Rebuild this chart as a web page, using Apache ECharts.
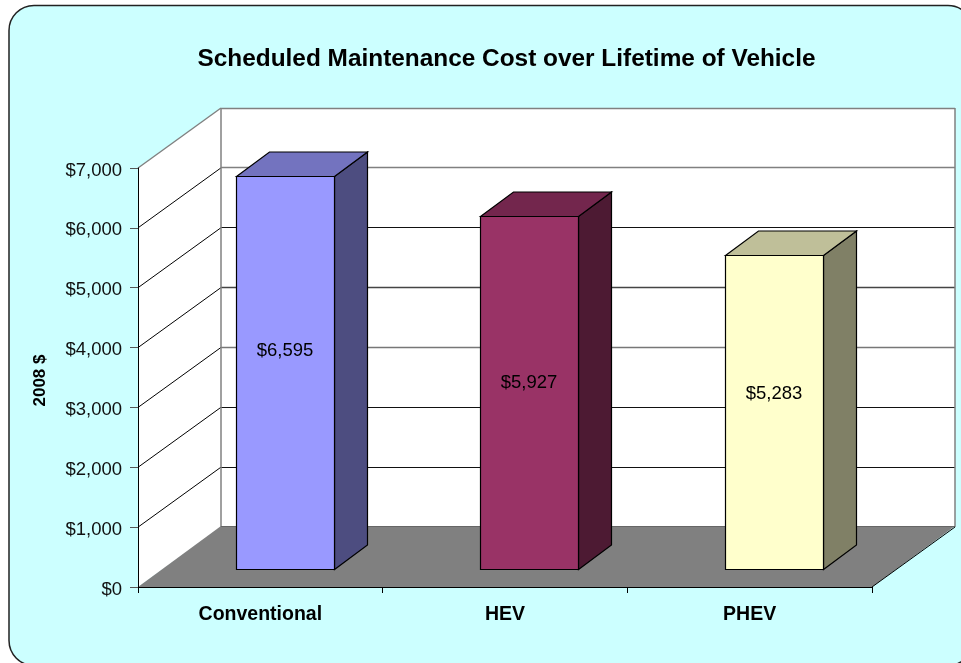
<!DOCTYPE html>
<html>
<head>
<meta charset="utf-8">
<style>html,body{margin:0;padding:0;background:#fff}#c{width:961px;height:663px}</style>
<script src="https://cdn.jsdelivr.net/npm/echarts@6/dist/echarts.min.js"></script>
</head>
<body>
<div id="c"></div>
<script>
const categories = ['Conventional', 'HEV', 'PHEV'];
const costs = [6595, 5927, 5283];
const axisTicks = [0, 1000, 2000, 3000, 4000, 5000, 6000, 7000];
const chartTitle = 'Scheduled Maintenance Cost over Lifetime of Vehicle';
const yAxisTitle = '2008 $';
const frontColors = ['#9999FF', '#993366', '#FFFFCC'];
const topColors = ['#7373BF', '#73264D', '#BFBF99'];
const sideColors = ['#4D4D80', '#4D1A33', '#808066'];
const gridShades = [null, '#111', '#111', '#777', '#444', '#111', '#808080', '#808080'];
const labelLift = [-22, -10, -19];

const FONT = '"Liberation Sans", Arial, sans-serif';
const WALL = [83, -60];
const BAR_DEPTH = [33, -24.5];
const BAR_SHIFT = [24.4, -18];
const fmt = v => '$' + v.toLocaleString('en-US');
const line = (x1, y1, x2, y2, stroke, lineWidth) => ({
  type: 'line', shape: { x1, y1, x2, y2 }, style: { stroke, lineWidth: lineWidth || 1 }
});
const poly = (points, fill, stroke, lineWidth) => ({
  type: 'polygon', shape: { points }, style: { fill, stroke: stroke || null, lineWidth: lineWidth || 0 }
});

function renderWalls(params, api) {
  const cs = params.coordSys;
  const x0 = cs.x, x1 = cs.x + cs.width, yB = cs.y + cs.height, yT = cs.y;
  const [dx, dy] = WALL;
  const kids = [
    poly([[x0, yT], [x0 + dx, yT + dy], [x0 + dx, yB + dy], [x0, yB]], '#fff'),
    poly([[x0 + dx, yT + dy], [x1 + dx, yT + dy], [x1 + dx, yB + dy], [x0 + dx, yB + dy]], '#fff'),
    poly([[x0, yB], [x0 + dx, yB + dy - 1], [x1 + dx, yB + dy - 1], [x1, yB]], '#808080')
  ];
  axisTicks.forEach((v, i) => {
    if (v === 0) return;
    const y = api.coord([0, v])[1];
    const top = i === axisTicks.length - 1;
    kids.push(line(x0, y, x0 + dx, y + dy, top ? '#808080' : '#000', top ? 1.4 : 1));
    const yb = Math.floor(y + dy) + 0.5;
    kids.push(line(x0 + dx, yb, x1 + dx, yb, gridShades[i], gridShades[i] === '#111' ? 1 : 1.4));
  });
  kids.push(line(x0 + dx, yT + dy, x0 + dx, yB + dy, '#808080', 1.5));
  kids.push(line(x1 + dx, yT + dy, x1 + dx, yB + dy, '#808080', 1.5));
  kids.push(line(x0 + dx, yB + dy - 0.5, x1 + dx, yB + dy - 0.5, '#666', 1));
  kids.push(line(x1, yB, x1 + dx, yB + dy, '#000', 1));
  return { type: 'group', children: kids };
}

function renderBar(params, api) {
  const i = params.dataIndex;
  const c = api.coord([i, api.value(1)]);
  const base = api.coord([i, 0]);
  const w = api.size([1, 0])[0] * 0.4;
  const cx = c[0] + BAR_SHIFT[0];
  const l = Math.round(cx - w / 2) + 0.5, r = Math.round(cx + w / 2) + 0.5;
  const yb = base[1] + BAR_SHIFT[1] + 0.5;
  const yt = Math.round(c[1] + BAR_SHIFT[1] + 2) + 0.5;
  const [ddx, ddy] = BAR_DEPTH;
  const s = '#000';
  return {
    type: 'group',
    children: [
      poly([[r, yt], [r + ddx, yt + ddy], [r + ddx, yb + ddy], [r, yb]], sideColors[i], s, 1.2),
      poly([[l, yt], [l + ddx, yt + ddy], [r + ddx, yt + ddy], [r, yt]], topColors[i], s, 1.2),
      poly([[l, yt], [r, yt], [r, yb], [l, yb]], frontColors[i], s, 1.2),
      {
        type: 'text',
        style: {
          text: fmt(api.value(1)), x: (l + r) / 2 - 0.5, y: (yt + yb) / 2 + labelLift[i],
          align: 'center', verticalAlign: 'middle', fill: '#000', font: '18.5px ' + FONT
        }
      }
    ]
  };
}

const chart = echarts.init(document.getElementById('c'), null, { renderer: 'canvas' });
chart.setOption({
  animation: false,
  backgroundColor: '#fff',
  graphic: [{
    type: 'rect', z: -10, silent: true,
    shape: { x: 9, y: 5.5, width: 964, height: 660, r: 25 },
    style: { fill: '#CCFFFF', stroke: '#222', lineWidth: 1.5 }
  }],
  title: {
    text: chartTitle, left: 501.5, top: 42, textAlign: 'center',
    textStyle: { fontFamily: FONT, fontSize: 24.4, fontWeight: 'bold', color: '#000' }
  },
  grid: { left: 138, right: 89, top: 168, bottom: 76 },
  xAxis: {
    type: 'category', data: categories, z: 5,
    axisLine: { lineStyle: { color: '#000', width: 1 } },
    axisTick: { show: true, alignWithLabel: false, length: 6, lineStyle: { color: '#000' } },
    axisLabel: { fontFamily: FONT, fontSize: 19.5, fontWeight: 'bold', color: '#000', margin: 18 },
    splitLine: { show: false }
  },
  yAxis: {
    type: 'value', min: 0, max: 7000, interval: 1000, z: 5,
    name: yAxisTitle, nameLocation: 'middle', nameGap: 89, nameRotate: 90,
    nameTextStyle: { fontFamily: FONT, fontSize: 17, fontWeight: 'bold', color: '#000', padding: [0, 6, 0, 0] },
    axisLine: { show: true, lineStyle: { color: '#000', width: 1 } },
    axisTick: { show: true, length: 8, lineStyle: { color: '#555' } },
    axisLabel: {
      fontFamily: FONT, fontSize: 18.5, color: '#111', margin: 16, formatter: v => '{t|' + fmt(v) + '}',
      rich: { t: { fontFamily: FONT, fontSize: 18.5, color: '#111', padding: [5, 0, 0, 0] } }
    },
    splitLine: { show: false }
  },
  series: [
    { type: 'custom', z: 1, silent: true, data: [[0, 0]], renderItem: renderWalls },
    { type: 'custom', z: 3, silent: true, data: costs.map((v, i) => [i, v]), encode: { x: 0, y: 1 }, renderItem: renderBar }
  ]
});
</script>
</body>
</html>
